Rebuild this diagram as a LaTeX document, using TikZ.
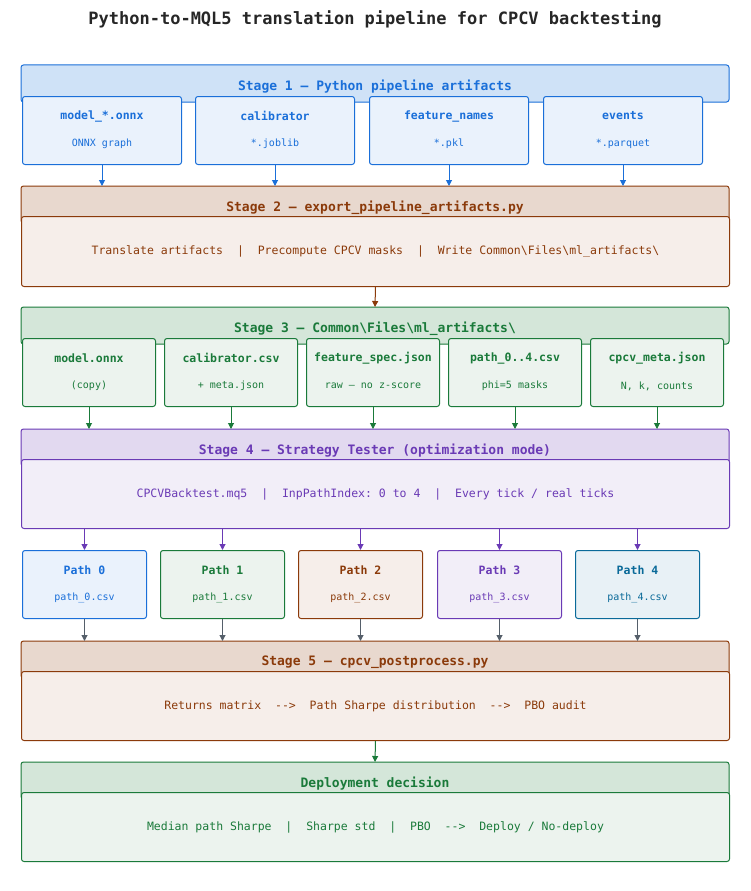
\documentclass[tikz,border=0pt]{standalone}
\usepackage{fontspec}
\setmonofont{DejaVu Sans Mono}
\usetikzlibrary{arrows.meta,positioning}
\definecolor{cblue}{HTML}{1A6FD9}\definecolor{fblueh}{HTML}{CFE2F7}\definecolor{fblue}{HTML}{EAF2FC}
\definecolor{cbrown}{HTML}{8B3A0A}\definecolor{fbrownh}{HTML}{E8D8CE}\definecolor{fbrown}{HTML}{F6EEEA}
\definecolor{cgreen}{HTML}{1A7A3A}\definecolor{fgreenh}{HTML}{D4E6D9}\definecolor{fgreen}{HTML}{ECF3EE}
\definecolor{cpurple}{HTML}{6A3AB5}\definecolor{fpurpleh}{HTML}{E2D9F0}\definecolor{fpurple}{HTML}{F2EEF8}
\definecolor{cteal}{HTML}{0A6A99}\definecolor{fteal}{HTML}{E8F1F6}
\definecolor{cgray}{HTML}{555F6A}
\tikzset{
  box/.style 2 args={draw=#1,fill=#2,rounded corners=2.5pt,line width=1pt,inner sep=0pt},
  hdr/.style={font=\ttfamily\bfseries\fontsize{13}{15}\selectfont,anchor=north,text depth=0pt},
  ttl/.style={font=\ttfamily\bfseries\fontsize{11.5}{13}\selectfont},
  sub/.style={font=\ttfamily\fontsize{10}{12}\selectfont},
  txt/.style={font=\ttfamily\fontsize{11.5}{13}\selectfont},
  arr/.style={draw=#1,line width=1pt,-{Triangle[length=6pt,width=6pt]}},
}
\newcommand{\stagebox}[6]{% name, top, bottom, colour, header fill, header text
  \draw[box={#4}{#5}] (21,#2) rectangle (729,{#2+37});
  \node[hdr,text=#4] (#1) at (375,{#2+11}) {#6};}
\newcommand{\artbox}[8]{% name, left, top, width, colour, fill, title, subtitle
  \node[box={#5}{#6},anchor=north west,minimum width=#4,minimum height=68] (#1) at (#2,#3) {};
  \node[ttl,text=#5] at ([yshift=-20]#1.north) {#7};
  \node[sub,text=#5] at ([yshift=-48]#1.north) {#8};}
\begin{document}
\begin{tikzpicture}[x=1pt,y=-1pt]
\useasboundingbox (0,0) rectangle (750,891);
\node[font=\ttfamily\bfseries\fontsize{17}{20}\selectfont,text=black!85] (title) at (375,19) {Python-to-MQL5 translation pipeline for CPCV backtesting};

% stage 1
\stagebox{s1}{65}{102}{cblue}{fblueh}{Stage 1 — Python pipeline artifacts}
\artbox{a1}{22}{96}{159}{cblue}{fblue}{model\_*.onnx}{ONNX graph}
\artbox{a2}{195}{96}{159}{cblue}{fblue}{calibrator}{*.joblib}
\artbox{a3}{369}{96}{159}{cblue}{fblue}{feature\_names}{*.pkl}
\artbox{a4}{543}{96}{159}{cblue}{fblue}{events}{*.parquet}

% stage 2
\stagebox{s2}{186}{223}{cbrown}{fbrownh}{Stage 2 — export\_pipeline\_artifacts.py}
\node[box={cbrown}{fbrown},anchor=north west,minimum width=708,minimum height=70,txt,text=cbrown] (b2) at (21,216)
  {Translate artifacts\ \ |\ \ Precompute CPCV masks\ \ |\ \ Write Common\textbackslash Files\textbackslash ml\_artifacts\textbackslash};
\foreach \i in {1,...,4} \draw[arr=cblue] (a\i.south) -- (a\i.south |- 0,186);

% stage 3
\stagebox{s3}{307}{345}{cgreen}{fgreenh}{Stage 3 — Common\textbackslash Files\textbackslash ml\_artifacts\textbackslash}
\draw[arr=cbrown] (b2.south) -- (375,307);
\artbox{c1}{22}{338}{133}{cgreen}{fgreen}{model.onnx}{(copy)}
\artbox{c2}{164}{338}{133}{cgreen}{fgreen}{calibrator.csv}{+ meta.json}
\artbox{c3}{306}{338}{133}{cgreen}{fgreen}{feature\_spec.json}{raw — no z-score}
\artbox{c4}{448}{338}{133}{cgreen}{fgreen}{path\_0..4.csv}{phi=5 masks}
\artbox{c5}{590}{338}{133}{cgreen}{fgreen}{cpcv\_meta.json}{N, k, counts}

% stage 4
\stagebox{s4}{429}{466}{cpurple}{fpurpleh}{Stage 4 — Strategy Tester (optimization mode)}
\node[box={cpurple}{fpurple},anchor=north west,minimum width=708,minimum height=69,txt,text=cpurple] (b4) at (21,459)
  {CPCVBacktest.mq5\ \ |\ \ InpPathIndex: 0 to 4\ \ |\ \ Every tick / real ticks};
\foreach \i in {1,...,5} \draw[arr=cgreen] (c\i.south) -- (c\i.south |- 0,429);

% paths
\artbox{p0}{22}{550}{124}{cblue}{fblue}{Path 0}{path\_0.csv}
\artbox{p1}{160}{550}{124}{cgreen}{fgreen}{Path 1}{path\_1.csv}
\artbox{p2}{298}{550}{124}{cbrown}{fbrown}{Path 2}{path\_2.csv}
\artbox{p3}{437}{550}{124}{cpurple}{fpurple}{Path 3}{path\_3.csv}
\artbox{p4}{575}{550}{124}{cteal}{fteal}{Path 4}{path\_4.csv}
\foreach \i in {0,...,4} \draw[arr=cpurple] (p\i.north |- b4.south) -- (p\i.north);

% stage 5
\stagebox{s5}{641}{678}{cbrown}{fbrownh}{Stage 5 — cpcv\_postprocess.py}
\node[box={cbrown}{fbrown},anchor=north west,minimum width=708,minimum height=69,txt,text=cbrown] (b5) at (21,671)
  {Returns matrix\ \ -{}->\ \ Path Sharpe distribution\ \ -{}->\ \ PBO audit};
\foreach \i in {0,...,4} \draw[arr=cgray] (p\i.south) -- (p\i.south |- 0,641);

% deployment
\stagebox{s6}{762}{799}{cgreen}{fgreenh}{Deployment decision}
\node[box={cgreen}{fgreen},anchor=north west,minimum width=708,minimum height=69,txt,text=cgreen] (b6) at (21,792)
  {Median path Sharpe\ \ |\ \ Sharpe std\ \ |\ \ PBO\ \ -{}->\ \ Deploy / No-deploy};
\draw[arr=cgreen] (b5.south) -- (375,762);
\end{tikzpicture}
\end{document}
